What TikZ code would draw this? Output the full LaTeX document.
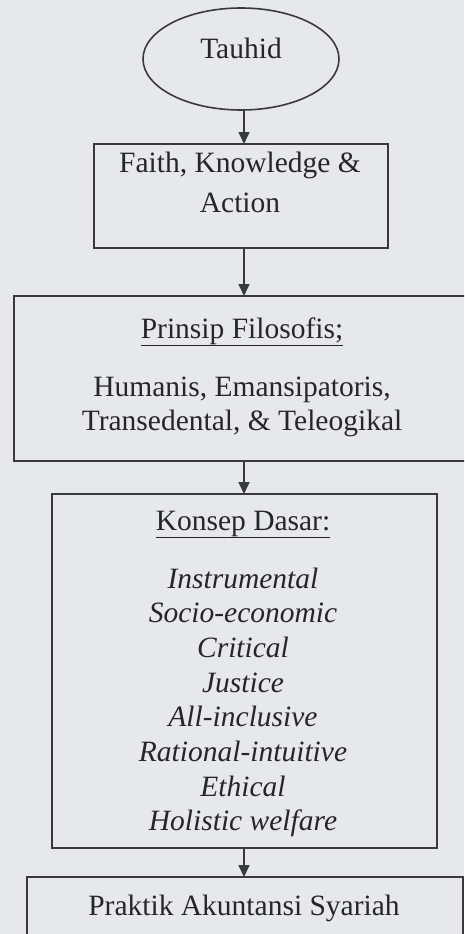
\documentclass[tikz,border=0pt]{standalone}
\usepackage{fontspec}
\setmainfont{Liberation Serif}
\usetikzlibrary{shapes.geometric,arrows.meta}
\definecolor{bg}{HTML}{E5E9EE}
\definecolor{ln}{HTML}{3A3A3C}
\definecolor{tx}{HTML}{262626}
\tikzset{
  boxn/.style={draw=ln, line width=1.8pt, rectangle, inner sep=0pt, anchor=north west},
  txt/.style={text=tx, font=\fontsize{29.5}{34.7}\selectfont, anchor=base, inner sep=0pt},
  itx/.style={txt, font=\fontsize{29.5}{34.7}\selectfont\itshape},
  arr/.style={draw=ln, line width=1.6pt, -{Triangle[length=12pt,width=11pt]}, shorten >=-1pt},
}
\begin{document}
\begin{tikzpicture}[x=1pt,y=-1pt]
\fill[bg] (0,0) rectangle (464,934);
\useasboundingbox (0,0) rectangle (464,934);
\clip (0,0) rectangle (464,934);
\coordinate (ax) at (244,0);
% shapes
\node[draw=ln, line width=1.6pt, ellipse, minimum width=196pt, minimum height=102pt, inner sep=0pt] (tauhid) at (241,59) {};
\node[boxn, minimum width=294pt, minimum height=104pt] (faith) at (93,143) {};
\node[boxn, minimum width=480pt, minimum height=165pt] (prinsip) at (13,295) {};
\node[boxn, minimum width=385pt, minimum height=354pt] (konsep) at (51,493) {};
\node[boxn, minimum width=436pt, minimum height=120pt] (praktik) at (26,876) {};
% texts
\node[txt] (t0) at (241,59) {Tauhid};
\node[txt] (t1) at (240,172) {Faith, Knowledge \&};
\node[txt] (t2) at (240,212) {Action};
\node[txt] (t3) at (242,338) {\underline{Prinsip Filosofis;}};
\node[txt] (t4) at (242,396) {Humanis, Emansipatoris,};
\node[txt] (t5) at (242,430) {Transedental, \& Teleogikal};
\node[txt] (t6) at (243,530) {\underline{Konsep Dasar:}};
\node[itx] (i1) at (243,588) {Instrumental};
\node[itx] (i2) at (243,622.7) {Socio-economic};
\node[itx] (i3) at (243,657.4) {Critical};
\node[itx] (i4) at (243,692.1) {Justice};
\node[itx] (i5) at (243,726.8) {All-inclusive};
\node[itx] (i6) at (243,761.5) {Rational-intuitive};
\node[itx] (i7) at (243,796.2) {Ethical};
\node[itx] (i8) at (243,830.9) {Holistic welfare};
\node[txt] (t7) at (244,915) {Praktik Akuntansi Syariah};
% connectors
\draw[arr] (tauhid.south -| ax) -- (faith.north -| ax);
\draw[arr] (faith.south -| ax) -- (prinsip.north -| ax);
\draw[arr] (prinsip.south -| ax) -- (konsep.north -| ax);
\draw[arr] (konsep.south -| ax) -- (praktik.north -| ax);
\end{tikzpicture}
\end{document}
